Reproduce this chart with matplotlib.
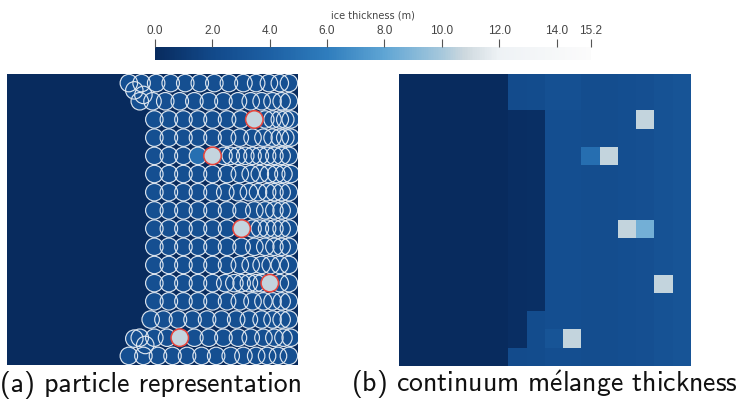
import numpy as np
import matplotlib
matplotlib.use("Agg")
import matplotlib.pyplot as plt
from matplotlib.colors import LinearSegmentedColormap, Normalize
from matplotlib.cm import ScalarMappable
from matplotlib.patches import Circle
from matplotlib.collections import PatchCollection

plt.rcParams["mathtext.fontset"] = "cm"

# colour scale for ice thickness (m)
cbar_ticks = [0.0, 2.0, 4.0, 6.0, 8.0, 10.0, 12.0, 14.0, 15.2]
cbar_labels = ["0.0", "2.0", "4.0", "6.0", "8.0", "10.0", "12.0", "14.0", "15.2"]
cmap_stops = [0.0, 2.0, 4.0, 6.0, 8.0, 10.0, 10.8, 12.0, 15.2]
cmap_colors = ["#082b5e", "#12498a", "#1d60a4", "#2f7dbd", "#5fa5d4",
               "#a6c8dc", "#cdd8de", "#eef2f5", "#fbfbfb"]

# continuum grid, 16 x 16 cells (thickness in m)
n_cells = 16
col_thickness = [0, 0, 0, 0, 0, 0, 2.2, 2.3, 2.5, 2.5, 2.4, 2.4, 2.5, 2.6, 2.8, 3.0]
# columns that stay almost open water over a range of rows: col -> (first row, last row, value)
thin_band = {6: (2, 14, 0.25), 7: (2, 12, 0.35)}
# single cells: (row, col, thickness)
cell_values = [(0, 8, 2.7), (0, 9, 2.7), (1, 8, 2.65), (1, 9, 2.65),
               (2, 13, 10.6), (4, 10, 5.0), (4, 11, 10.6),
               (8, 12, 10.6), (8, 13, 8.6), (11, 14, 10.6),
               (14, 8, 3.0), (14, 9, 10.6)]

# particles: x centres (grid units) per row, rows are one cell apart
particle_rows = [
    [6.7, 7.4, 8.2, 9.0, 9.8, 10.6, 11.4, 12.2, 13.0, 13.7, 14.4, 15.0, 15.5],
    [7.3, 8.0, 8.7, 9.5, 10.3, 11.1, 11.9, 12.7, 13.4, 14.0, 14.6, 15.1, 15.5],
    [8.1, 8.9, 9.7, 10.5, 11.3, 12.1, 12.85, 14.2, 14.6, 15.0, 15.3, 15.6],
    [8.1, 8.9, 9.7, 10.5, 11.3, 12.1, 12.8, 13.5, 14.1, 14.6, 15.0, 15.3, 15.6],
    [8.1, 8.9, 9.7, 11.9, 12.3, 12.7, 13.1, 13.5, 13.9, 14.3, 14.7, 15.1, 15.5],
    [8.1, 8.9, 9.7, 10.5, 11.3, 12.1, 12.8, 13.4, 13.9, 14.4, 14.8, 15.2, 15.6],
    [8.1, 8.9, 9.7, 10.5, 11.3, 12.0, 12.7, 13.3, 13.8, 14.3, 14.7, 15.1, 15.5],
    [8.1, 8.9, 9.7, 10.5, 11.3, 12.1, 12.9, 13.6, 14.2, 14.7, 15.1, 15.5],
    [8.1, 8.9, 9.7, 10.5, 11.3, 12.1, 13.5, 13.9, 14.3, 14.7, 15.1, 15.5],
    [8.1, 8.9, 9.7, 10.5, 11.3, 12.1, 12.9, 13.6, 14.2, 14.7, 15.1, 15.5],
    [8.1, 8.9, 9.7, 10.5, 11.3, 12.1, 12.8, 13.4, 14.0, 14.5, 15.0, 15.5],
    [8.1, 8.9, 9.7, 10.5, 11.3, 12.0, 12.5, 12.9, 13.3, 13.7, 14.0, 15.0, 15.5],
    [8.1, 8.9, 9.7, 10.5, 11.3, 12.1, 12.8, 13.5, 14.1, 14.6, 15.1, 15.5],
    [7.9, 8.6, 9.4, 10.2, 11.0, 11.8, 12.6, 13.3, 14.0, 14.6, 15.1, 15.5],
    [7.3, 8.1, 8.8, 10.3, 11.1, 11.9, 12.7, 13.4, 14.1, 14.7, 15.2, 15.6],
    [6.7, 7.5, 8.3, 9.1, 9.9, 10.7, 11.5, 12.3, 13.0, 13.7, 14.3, 14.9, 15.5],
]
particle_thickness = 2.5
# loose particles piled at the front corners (x, y)
extra_particles = [(7.0, 0.9), (7.5, 1.15), (7.0, 14.55), (7.6, 14.9)]
# thick particles (x, y, thickness, highlighted)
special_particles = [(13.6, 2.5, 10.6, True), (10.5, 4.5, 5.0, False),
                     (11.3, 4.5, 10.6, True), (12.9, 8.5, 10.6, True),
                     (14.45, 11.5, 10.6, True), (9.5, 14.5, 10.6, True)]
radius = 0.48

captions = [r"(a) particle representation",
            r"(b) continuum m$\mathsf{\acute{e}}$lange thickness"]

cmap = LinearSegmentedColormap.from_list(
    "ice", list(zip(np.array(cmap_stops) / cmap_stops[-1], cmap_colors)))
norm = Normalize(0.0, cmap_stops[-1])

grid = np.tile(np.array(col_thickness, dtype=float), (n_cells, 1))
for col, (r0, r1, val) in thin_band.items():
    grid[r0:r1 + 1, col] = val
for r, c, val in cell_values:
    grid[r, c] = val

fig = plt.figure(figsize=(7.48, 4.11), dpi=100)
ax_a = fig.add_axes([7 / 748, 46 / 411, 291 / 748, 291 / 411])
ax_b = fig.add_axes([399 / 748, 45 / 411, 292 / 748, 292 / 411])
cax = fig.add_axes([155 / 748, 351 / 411, 436 / 748, 13 / 411])

# (a) particles on open water
ax_a.imshow(np.zeros((n_cells, n_cells)), cmap=cmap, norm=norm,
            extent=[0, n_cells, n_cells, 0], interpolation="nearest")
centres = [(x, i + 0.5) for i, row in enumerate(particle_rows) for x in row]
centres += extra_particles
fills = PatchCollection([Circle(c, radius) for c in centres],
                        facecolor=cmap(norm(particle_thickness)), edgecolor="none")
ax_a.add_collection(fills)
edges = PatchCollection([Circle(c, radius) for c in centres],
                        facecolor="none", edgecolor="#dbe4ee", linewidth=0.85)
ax_a.add_collection(edges)
for x, y, h, hi in special_particles:
    ax_a.add_patch(Circle((x, y), radius, facecolor=cmap(norm(h)),
                          edgecolor="#e8453c" if hi else "#dbe4ee",
                          linewidth=1.1 if hi else 0.85, zorder=3))
ax_a.set_xlim(0, n_cells)
ax_a.set_ylim(n_cells, 0)
ax_a.axis("off")

# (b) continuum field
ax_b.imshow(grid, cmap=cmap, norm=norm, extent=[0, n_cells, n_cells, 0],
            interpolation="nearest")
ax_b.set_xlim(0, n_cells)
ax_b.set_ylim(n_cells, 0)
ax_b.axis("off")

# colour bar
cb = fig.colorbar(ScalarMappable(norm=norm, cmap=cmap), cax=cax, orientation="horizontal")
cb.outline.set_visible(False)
cax.xaxis.set_ticks_position("top")
cb.set_ticks(cbar_ticks)
cb.set_ticklabels(cbar_labels)
cax.tick_params(axis="x", length=6, width=0.8, color="#555555", labelsize=8.5,
                labelcolor="#444444", pad=1.5)
for lab in cax.get_xticklabels():
    lab.set_family(["Liberation Sans", "DejaVu Sans"])
fig.text(373 / 748, 1 - 15 / 411, "ice thickness (m)", ha="center", va="center",
         fontsize=7, color="#444444")

for ax_x, txt in zip([151, 544], captions):
    fig.text(ax_x / 748, 19 / 411, txt, ha="center", va="baseline", fontsize=20,
             family=["cmss10", "DejaVu Sans"], color="#111111")

fig.savefig("out.png", dpi=100)
